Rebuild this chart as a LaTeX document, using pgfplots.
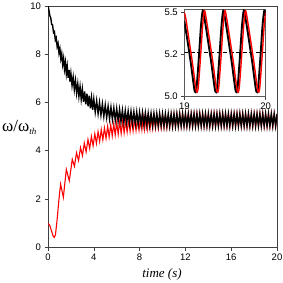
\documentclass[border=0pt]{standalone}
\usepackage{pgfplots}
\pgfplotsset{compat=1.18}
\usepackage{fontspec}
\setmainfont{Liberation Sans}
\newfontfamily\timesf{Liberation Serif}
\begin{document}
\begin{tikzpicture}
\begin{axis}[
  at={(0pt,0pt)}, anchor=south west, scale only axis,
  width=229pt, height=241pt,
  xmin=0, xmax=20, ymin=0, ymax=10,
  xtick={0,4,8,12,16,20}, ytick={0,2,4,6,8,10},
  tick align=outside, xtick pos=bottom, ytick pos=left,
  major tick length=3.5pt,
  axis line style={black!75, line width=0.8pt},
  tick style={black!75, line width=0.6pt},
  ticklabel style={font=\fontsize{9.5}{11}\selectfont},
  /pgf/number format/assume math mode=true,
]
\addplot[red, line width=1.1pt] coordinates {
(0,0.98) (0.15,0.90) (0.3,0.68) (0.45,0.45) (0.55,0.40) (0.65,0.50) (0.8,1.15) (0.95,1.95)
(1.1,2.61) (1.34,2.06) (1.6,3.22) (1.86,2.75) (2.12,3.64) (2.31,3.35) (2.49,3.91) (2.67,3.59)
(2.84,4.13) (3.01,3.79) (3.17,4.31) (3.33,3.95) (3.49,4.46) (3.64,4.09) (3.79,4.59) (3.94,4.20)
(4.09,4.69) (4.23,4.30) (4.37,4.78) (4.51,4.38) (4.65,4.87) (4.79,4.45) (4.93,4.94) (5.07,4.51)
(5.21,5.01) (5.34,4.56) (5.48,5.07) (5.61,4.61) (5.74,5.11) (5.87,4.65) (6.00,5.16) (6.13,4.68)
(6.26,5.20) (6.39,4.71) (6.52,5.23) (6.65,4.74) (6.78,5.26) (6.91,4.77) (7.04,5.28) (7.17,4.80)
(7.30,5.31) (7.43,4.82) (7.56,5.33) (7.69,4.84) (7.82,5.35) (7.95,4.86) (8.08,5.36) (8.199,4.87)
(8.318,5.38) (8.437,4.88) (8.556,5.39) (8.675,4.90) (8.794,5.40) (8.913,4.91) (9.032,5.41) (9.151,4.92)
(9.27,5.42) (9.395,4.93) (9.52,5.43) (9.645,4.94) (9.77,5.44) (9.895,4.95) (10.02,5.45) (10.145,4.96)
(10.27,5.46) (10.395,4.97) (10.52,5.47) (10.645,4.98) (10.77,5.48) (10.895,4.99) (11.02,5.49) (11.145,5.00)
(11.27,5.50) (11.395,5.01) (11.52,5.51) (11.645,5.02) (11.77,5.52) (11.895,5.02)
(12.02,5.52) (12.145,5.02) (12.27,5.52) (12.395,5.02) (12.52,5.52) (12.645,5.02) (12.77,5.52) (12.895,5.02)
(13.02,5.52) (13.145,5.02) (13.27,5.52) (13.395,5.02) (13.52,5.52) (13.645,5.02) (13.77,5.52) (13.895,5.02)
(14.02,5.52) (14.145,5.02) (14.27,5.52) (14.395,5.02) (14.52,5.52) (14.645,5.02) (14.77,5.52) (14.895,5.02)
(15.02,5.52) (15.145,5.02) (15.27,5.52) (15.395,5.02) (15.52,5.52) (15.645,5.02) (15.77,5.52) (15.895,5.02)
(16.02,5.52) (16.145,5.02) (16.27,5.52) (16.395,5.02) (16.52,5.52) (16.645,5.02) (16.77,5.52) (16.895,5.02)
(17.02,5.52) (17.145,5.02) (17.27,5.52) (17.395,5.02) (17.52,5.52) (17.645,5.02) (17.77,5.52) (17.895,5.02)
(18.02,5.52) (18.145,5.02) (18.27,5.52) (18.395,5.02) (18.52,5.52) (18.645,5.02) (18.77,5.52) (18.895,5.02)
(19.02,5.52) (19.145,5.02) (19.27,5.52) (19.395,5.02) (19.52,5.52) (19.645,5.02) (19.77,5.52) (19.895,5.02)
(20.02,5.52)
};
\addplot[black, line width=1.4pt] coordinates {
(0,10.00) (0.08,9.83) (0.16,9.60) (0.24,9.51) (0.32,9.24) (0.40,9.21) (0.48,8.90) (0.56,8.94)
(0.64,8.59) (0.72,8.68) (0.80,8.31) (0.88,8.44) (0.96,8.05) (1.04,8.23) (1.12,7.81) (1.20,8.02)
(1.28,7.58) (1.36,7.83) (1.44,7.38) (1.52,7.66) (1.60,7.19) (1.68,7.50) (1.76,7.02) (1.84,7.35)
(1.92,6.86) (2.00,7.21) (2.1,6.70) (2.2,7.05) (2.3,6.53) (2.4,6.91) (2.5,6.38) (2.6,6.77)
(2.7,6.25) (2.8,6.66) (2.9,6.13) (3.0,6.55) (3.1,6.02) (3.2,6.45) (3.3,5.92) (3.4,6.36)
(3.5,5.84) (3.6,6.28) (3.7,5.76) (3.8,6.20) (3.9,5.69) (4.0,6.14)
(4.125,5.60) (4.25,6.07) (4.375,5.53) (4.5,6.00) (4.625,5.47) (4.75,5.94) (4.875,5.42) (5.0,5.89)
(5.125,5.37) (5.25,5.84) (5.375,5.32) (5.5,5.80) (5.625,5.29) (5.75,5.77) (5.875,5.25) (6.0,5.74)
(6.125,5.22) (6.25,5.71) (6.375,5.20) (6.5,5.68) (6.625,5.17) (6.75,5.66) (6.875,5.15) (7.0,5.64)
(7.125,5.14) (7.25,5.63) (7.375,5.12) (7.5,5.61) (7.625,5.11) (7.75,5.60) (7.875,5.09) (8.0,5.59)
(8.125,5.08) (8.25,5.57) (8.375,5.07) (8.5,5.56) (8.625,5.06) (8.75,5.55) (8.875,5.05) (9.0,5.54)
(9.125,5.04) (9.25,5.54) (9.375,5.04) (9.5,5.53) (9.625,5.03) (9.75,5.53) (9.875,5.03) (10,5.52)
(10.125,5.02) (10.25,5.52) (10.375,5.02) (10.5,5.52) (10.625,5.02) (10.75,5.52) (10.875,5.02) (11,5.52)
(11.125,5.02) (11.25,5.52) (11.375,5.02) (11.5,5.52) (11.625,5.02) (11.75,5.52) (11.875,5.02) (12,5.52)
(12.125,5.02) (12.25,5.52) (12.375,5.02) (12.5,5.52) (12.625,5.02) (12.75,5.52) (12.875,5.02) (13,5.52)
(13.125,5.02) (13.25,5.52) (13.375,5.02) (13.5,5.52) (13.625,5.02) (13.75,5.52) (13.875,5.02) (14,5.52)
(14.125,5.02) (14.25,5.52) (14.375,5.02) (14.5,5.52) (14.625,5.02) (14.75,5.52) (14.875,5.02) (15,5.52)
(15.125,5.02) (15.25,5.52) (15.375,5.02) (15.5,5.52) (15.625,5.02) (15.75,5.52) (15.875,5.02) (16,5.52)
(16.125,5.02) (16.25,5.52) (16.375,5.02) (16.5,5.52) (16.625,5.02) (16.75,5.52) (16.875,5.02) (17,5.52)
(17.125,5.02) (17.25,5.52) (17.375,5.02) (17.5,5.52) (17.625,5.02) (17.75,5.52) (17.875,5.02) (18,5.52)
(18.125,5.02) (18.25,5.52) (18.375,5.02) (18.5,5.52) (18.625,5.02) (18.75,5.52) (18.875,5.02) (19,5.52)
(19.125,5.02) (19.25,5.52) (19.375,5.02) (19.5,5.52) (19.625,5.02) (19.75,5.52) (19.875,5.02) (20,5.52)
};
\end{axis}
\begin{axis}[
  at={(136.3pt,150.3pt)}, anchor=south west, scale only axis,
  width=81.4pt, height=87.7pt,
  xmin=19, xmax=20, ymin=5.0, ymax=5.52,
  xtick={19,20}, ytick={5.0,5.25,5.5}, yticklabels={5.0,5.2,5.5},
  tick align=outside, xtick pos=bottom, ytick pos=left,
  major tick length=3pt,
  axis background/.style={fill=white},
  axis line style={black!65, line width=0.8pt},
  tick style={black!75, line width=0.6pt},
  ticklabel style={font=\fontsize{9.5}{11}\selectfont},
  /pgf/number format/assume math mode=true,
]
\addplot[black, line width=0.8pt, dash pattern=on 4pt off 2.5pt] coordinates {(19,5.26) (20,5.26)};
\addplot[black, line width=1.9pt, smooth, tension=0.5] coordinates {
(19.00,5.45) (19.04,5.33) (19.08,5.20) (19.11,5.09) (19.13,5.03) (19.15,5.05) (19.18,5.24) (19.205,5.42) (19.227,5.51) (19.25,5.46)
(19.292,5.33) (19.332,5.20) (19.362,5.09) (19.382,5.03) (19.402,5.05) (19.432,5.24) (19.457,5.42) (19.479,5.51) (19.502,5.46)
(19.544,5.33) (19.584,5.20) (19.614,5.09) (19.634,5.03) (19.654,5.05) (19.684,5.24) (19.709,5.42) (19.731,5.51) (19.754,5.46)
(19.796,5.33) (19.836,5.20) (19.866,5.09) (19.886,5.03) (19.906,5.05) (19.936,5.24) (19.961,5.42) (19.983,5.51) (20.0,5.48)
};
\addplot[red, line width=1.4pt, smooth, tension=0.5] coordinates {
(19.00,5.50) (19.02,5.46) (19.06,5.33) (19.10,5.20) (19.13,5.09) (19.15,5.03) (19.17,5.05) (19.20,5.24) (19.225,5.42) (19.247,5.51) (19.27,5.46)
(19.312,5.33) (19.352,5.20) (19.382,5.09) (19.402,5.03) (19.422,5.05) (19.452,5.24) (19.477,5.42) (19.499,5.51) (19.522,5.46)
(19.564,5.33) (19.604,5.20) (19.634,5.09) (19.654,5.03) (19.674,5.05) (19.704,5.24) (19.729,5.42) (19.751,5.51) (19.774,5.46)
(19.816,5.33) (19.856,5.20) (19.886,5.09) (19.906,5.03) (19.926,5.05) (19.956,5.24) (19.981,5.42) (20.0,5.50)
};
\end{axis}
\node[anchor=base west, inner sep=0pt, font=\timesf\fontsize{17}{17}\selectfont] at (-46pt,116pt)
  {ω/ω\raisebox{-3.5pt}{\fontsize{9}{9}\selectfont\itshape th}};
\node[anchor=base, inner sep=0pt, font=\timesf\itshape\fontsize{13}{13}\selectfont] at (114pt,-30pt) {time (s)};
\pgfresetboundingbox
\path[use as bounding box] (-48pt,-35pt) rectangle (235pt,247pt);
\end{tikzpicture}
\end{document}
